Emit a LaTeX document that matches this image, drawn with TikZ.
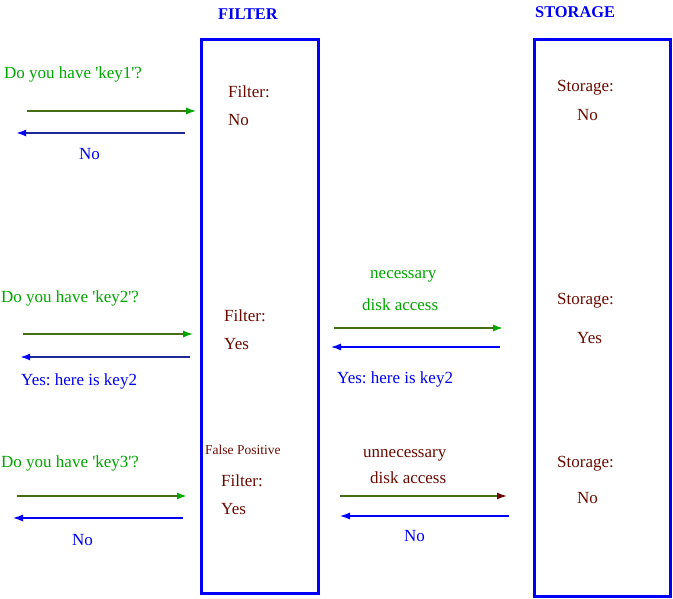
\documentclass[tikz,border=0pt]{standalone}
\usepackage{fontspec}
\setmainfont{Liberation Serif}
\usetikzlibrary{arrows.meta}

\definecolor{askgreen}{RGB}{0,165,0}
\definecolor{labelbrown}{RGB}{105,10,0}
\definecolor{linegreen}{RGB}{70,110,20}
\definecolor{linenavy}{RGB}{30,40,150}
\definecolor{boxblue}{RGB}{0,0,245}
\frenchspacing

\begin{document}
\begin{tikzpicture}[x=1pt, y=-1pt,
	txt/.style={anchor=base west, inner sep=0pt, font=\fontsize{17}{20}\selectfont},
	asktxt/.style={txt, text=askgreen},
	replytxt/.style={txt, text=boxblue},
	labeltxt/.style={txt, text=labelbrown},
	headtxt/.style={anchor=base west, inner sep=0pt, text=boxblue, font=\fontsize{16.4}{19}\selectfont\bfseries},
	column/.style={draw=boxblue, line width=3pt},
	askline/.style={draw=linegreen, line width=1.2pt, -{Latex[length=10pt, width=7pt, color=askgreen]}},
	diskline/.style={draw=linegreen, line width=1.6pt, -{Latex[length=10pt, width=7pt, color=labelbrown]}},
	replyline/.style={draw=linenavy, line width=2.2pt, -{Latex[length=10pt, width=7pt, color=boxblue]}},
	thinreply/.style={draw=boxblue, line width=1.2pt, -{Latex[length=10pt, width=7pt, color=boxblue]}}]
	\useasboundingbox (0,0) rectangle (673,599);

	% columns
	\node[headtxt] (filterhead) at (218,20) {FILTER};
	\node[headtxt] (storagehead) at (535,18) {STORAGE};
	\draw[column] (201,40) rectangle (318,593);
	\draw[column] (534,40) rectangle (670,596);

	% key1
	\node[asktxt] (ask1) at (4,79) {Do you have \textquotesingle key1\textquotesingle?};
	\node[replytxt] (reply1) at (79,160) {No};
	\node[labeltxt] (filt1) at (228,98) {Filter:};
	\node[labeltxt] (filtans1) at (228,126) {No};
	\node[labeltxt] (stor1) at (557,92) {Storage:};
	\node[labeltxt] (storans1) at (577,121) {No};
	\coordinate (q1a) at (27,111);
	\coordinate (q1b) at (196,111);
	\coordinate (r1a) at (185,133);
	\coordinate (r1b) at (16,133);
	\draw[askline] (q1a) -- (q1b);
	\draw[replyline] (r1a) -- (r1b);

	% key2
	\node[asktxt] (ask2) at (1,302) {Do you have \textquotesingle key2\textquotesingle?};
	\node[replytxt] (reply2) at (21,385) {Yes: here is key2};
	\node[labeltxt] (filt2) at (224,322) {Filter:};
	\node[labeltxt] (filtans2) at (224,349) {Yes};
	\node[asktxt] (disk2a) at (370,279) {necessary};
	\node[asktxt] (disk2b) at (362,311) {disk access};
	\node[replytxt] (diskreply2) at (337,383) {Yes: here is key2};
	\node[labeltxt] (stor2) at (557,305) {Storage:};
	\node[labeltxt] (storans2) at (577,344) {Yes};
	\coordinate (q2a) at (23,334);
	\coordinate (q2b) at (193,334);
	\coordinate (r2a) at (190,357);
	\coordinate (r2b) at (20,357);
	\coordinate (d2a) at (334,328);
	\coordinate (d2b) at (503,328);
	\coordinate (s2a) at (500,347);
	\coordinate (s2b) at (331,347);
	\draw[askline] (q2a) -- (q2b);
	\draw[replyline] (r2a) -- (r2b);
	\draw[askline, line width=1.6pt] (d2a) -- (d2b);
	\draw[thinreply] (s2a) -- (s2b);

	% key3
	\node[asktxt] (ask3) at (1,467) {Do you have \textquotesingle key3\textquotesingle?};
	\node[replytxt] (reply3) at (72,545) {No};
	\node[labeltxt, font=\fontsize{13.5}{16}\selectfont] (falsepos) at (205,454) {False Positive};
	\node[labeltxt] (filt3) at (221,486) {Filter:};
	\node[labeltxt] (filtans3) at (221,514) {Yes};
	\node[labeltxt] (disk3a) at (363,457) {unnecessary};
	\node[labeltxt] (disk3b) at (370,483) {disk access};
	\node[replytxt] (diskreply3) at (404,541) {No};
	\node[labeltxt] (stor3) at (557,467) {Storage:};
	\node[labeltxt] (storans3) at (577,503) {No};
	\coordinate (q3a) at (17,496);
	\coordinate (q3b) at (187,496);
	\coordinate (r3a) at (183,518);
	\coordinate (r3b) at (13,518);
	\coordinate (d3a) at (340,496);
	\coordinate (d3b) at (507,496);
	\coordinate (s3a) at (509,516);
	\coordinate (s3b) at (340,516);
	\draw[askline, line width=1.8pt] (q3a) -- (q3b);
	\draw[thinreply] (r3a) -- (r3b);
	\draw[diskline] (d3a) -- (d3b);
	\draw[thinreply] (s3a) -- (s3b);
\end{tikzpicture}
\end{document}
